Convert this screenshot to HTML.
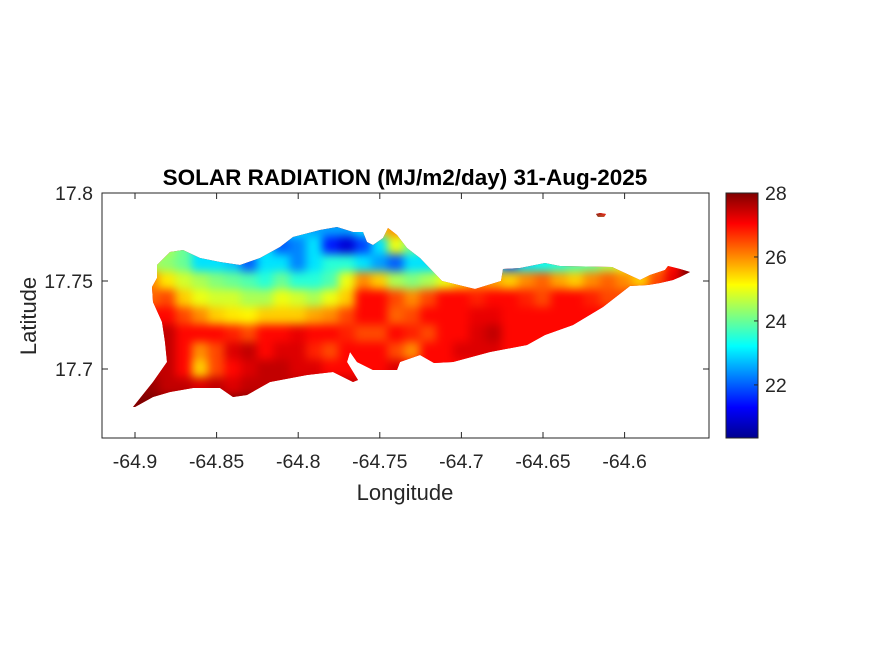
<!DOCTYPE html>
<html><head><meta charset="utf-8"><style>
body{margin:0;background:#fff;}
svg text{font-family:"Liberation Sans",Arial,sans-serif;fill:#262626;}
</style></head><body>
<svg width="875" height="656" viewBox="0 0 875 656" xmlns="http://www.w3.org/2000/svg">
<defs>
<clipPath id="island">
<polygon id="islandPoly" points="133,407 153,382 167,362 165,342 162,322 153,302 152,287 157,278 157,265 170,252 183,250 200,258 220,262 240,265 260,258 280,247 293,237 320,230 337,227 353,232 363,232 367,242 373,245 383,238 388,228 397,235 407,248 420,258 442,281 475,289 501,281 503,269 520,268 545,263 560,266 612,267 640,280 650,275 665,270 668,266 680,269 690,272 680,277 673,280 660,283 648,285 630,286 603,307 573,325 545,335 527,345 490,352 453,362 434,363 420,355 400,362 397,370 373,370 357,362 350,352 347,362 358,380 353,382 333,372 307,375 270,382 247,395 233,397 220,388 193,388 170,392 153,397 135,407"/>
<polygon points="596,214 600,213 606,214 604,217 598,217"/>
</clipPath>
<filter id="blur" x="-5%" y="-5%" width="110%" height="110%" color-interpolation-filters="sRGB"><feGaussianBlur stdDeviation="4.5"/></filter>
<linearGradient id="jet" x1="0" y1="1" x2="0" y2="0">
<stop offset="0" stop-color="#00008f"/><stop offset="0.125" stop-color="#0000ff"/><stop offset="0.375" stop-color="#00ffff"/><stop offset="0.625" stop-color="#ffff00"/><stop offset="0.875" stop-color="#ff0000"/><stop offset="1" stop-color="#800000"/>
</linearGradient>
</defs>
<text x="405" y="185" text-anchor="middle" font-size="22.5" font-weight="bold" style="fill:#000">SOLAR RADIATION (MJ/m2/day) 31-Aug-2025</text>
<g clip-path="url(#island)">
<rect x="100" y="190" width="620" height="250" fill="#e00000"/>
<g id="cells" filter="url(#blur)"></g>
</g>
<g id="axes">
<rect x="102" y="193" width="607" height="245" fill="none" stroke="#262626" stroke-width="1"/>
</g>
<text x="405" y="500" text-anchor="middle" font-size="22">Longitude</text>
<text transform="translate(36,316) rotate(-90)" text-anchor="middle" font-size="22">Latitude</text>
<rect x="726" y="193" width="32" height="245" fill="url(#jet)" stroke="#262626" stroke-width="1"/>
<g id="cbticks"></g>
</svg>
<script>
const lonTicks=[-64.9,-64.85,-64.8,-64.75,-64.7,-64.65,-64.6];
const latTicks=[17.8,17.75,17.7];
const cbTicks=[28,26,24,22];
const lonStart=-64.90, lonStep=0.01;
const latRows=[17.79,17.78,17.77,17.76,17.75,17.74,17.73,17.72,17.71,17.70,17.69,17.68,17.67];
const gridValues=[
[23,23,23,23,23,23,23,23,23,23,23,23,22.5,22.5,23,26,26,24,23,23,23,23,23,23,23,23,23,27,28,27,26,26,26,27,28],
[24,24,24,24,23.5,23.5,23,23,23,23,23,22.5,22.5,22.5,23,25.5,26,24,23,23,23,23,23,23,23,23,23,23,24,24,25,25,26,27,28],
[24.5,24.5,24.5,24,23,23,23,23,23,22,22.3,23,21.5,21,21.8,23,25,24,23,23,23,22.5,22,22,23,23,23.5,23.5,23.8,24,24.5,25,26,27,28],
[25,24.5,24.3,24,23,23,22.8,22,23,23,22.3,23,23.5,23.5,23,22.5,22,23,23,23.5,23.5,23.3,23,22,23,23.3,23.5,23.8,24,24.5,25,25.5,26,27,28],
[26.3,26,25.3,24.8,24.5,24.2,24,23.8,23.5,24,23.5,23.5,23.8,25,26,25.5,24.5,24.2,24.5,25,25.5,26,25.8,25.5,26,26.3,25.8,25.5,26,26.3,26,25.5,26.5,27.2,28],
[26.5,26.3,26.5,25.5,25,24.8,24.8,24.5,24.5,25,24.8,24.5,25,25.5,27,27,26.5,26,26.5,27,27,26.8,27,27,26.8,26.5,27,27,26.8,26.5,26.5,27,27,27,27],
[27,27,27,26.5,26,25.5,25.3,25.2,25.5,25.5,25.5,25.8,26,26.5,27,27,26.3,26.5,27,27,27,27.2,27.2,27,27,27,27,27,27,27,27,27,27,27,27],
[27.5,27.5,27.5,27,27,27,26.8,26.5,27,27,27.2,27,27,26.8,26.5,26.5,27,26.8,26.5,27,27,27.3,27.5,27,27,27,27,27,27,27,27,27,27,27,27],
[27.5,27.5,27.5,27,26,26.5,27.3,27.5,27,27.3,27.3,26.8,26.5,27,27,27,26.5,26,27,27,27.3,27.3,27.3,27,27,27,27,27,27,27,27,27,27,27,27],
[27.5,27.5,27.5,27,25.5,26.5,27,27.3,27.5,27.5,27.3,27.3,27,27,27,27,27.3,27,27,27,27,27,27,27,27,27,27,27,27,27,27,27,27,27,27],
[28,27.8,27.5,27.5,27.3,27.5,27.3,27.5,27.5,27.5,27.5,27.5,27.5,27.5,27.5,27.5,27.5,27.5,27.5,27.5,27.5,27.5,27.5,27.5,27.5,27.5,27.5,27.5,27.5,27.5,27.5,27.5,27.5,27.5,27.5],
[28,28,28,28,28,28,28,28,28,28,28,27.5,27.5,27.5,27.5,27.5,27.5,27.5,27.5,27.5,27.5,27.5,27.5,27.5,27.5,27.5,27.5,27.5,27.5,27.5,27.5,27.5,27.5,27.5,27.5],
[28,28,28,28,28,28,28,28,28,28,28,28,28,28,28,28,28,28,28,28,28,28,28,28,28,28,28,28,28,28,28,28,28,28,28]
];
const cMin=20.34, cMax=28;
const NS='http://www.w3.org/2000/svg';
function xScale(lon){return 135+(lon+64.9)*1632;}
function yScale(lat){return 193+(17.8-lat)*1760;}
function cbScale(v){return 438-(v-cMin)/(cMax-cMin)*245;}
function clamp(a){return Math.max(0,Math.min(1,a));}
function jet(v){const t=clamp((v-cMin)/(cMax-cMin));
const r=clamp(1.5-Math.abs(4*t-3)),g=clamp(1.5-Math.abs(4*t-2)),b=clamp(1.5-Math.abs(4*t-1));
return 'rgb('+Math.round(r*255)+','+Math.round(g*255)+','+Math.round(b*255)+')';}
const cells=document.getElementById('cells');
const cw=xScale(lonStart+lonStep)-xScale(lonStart);
const ch=yScale(17.70)-yScale(17.71);
gridValues.forEach((row,ri)=>{row.forEach((v,ci)=>{
const lon=lonStart+ci*lonStep, lat=latRows[ri];
const r=document.createElementNS(NS,'rect');
r.setAttribute('x',xScale(lon)-cw/2-0.5);r.setAttribute('y',yScale(lat)-ch/2-0.5);
r.setAttribute('width',cw+1);r.setAttribute('height',ch+1);r.setAttribute('fill',jet(v));


cells.appendChild(r);});});
const axes=document.getElementById('axes');
function add(parent,tag,attrs,text){const e=document.createElementNS(NS,tag);for(const k in attrs)e.setAttribute(k,attrs[k]);if(text!==undefined)e.textContent=text;parent.appendChild(e);return e;}
lonTicks.forEach(t=>{const x=xScale(t);
add(axes,'line',{x1:x,x2:x,y1:438,y2:432,stroke:'#262626'});
add(axes,'line',{x1:x,x2:x,y1:193,y2:199,stroke:'#262626'});
const l=add(axes,'text',{x:x,y:468,'text-anchor':'middle','font-size':'19.5'},String(t));

});
latTicks.forEach(t=>{const y=yScale(t);
add(axes,'line',{x1:102,x2:108,y1:y,y2:y,stroke:'#262626'});
add(axes,'line',{x1:709,x2:703,y1:y,y2:y,stroke:'#262626'});
const l=add(axes,'text',{x:93,y:y+7,'text-anchor':'end','font-size':'19.5'},String(t));

});
const cbt=document.getElementById('cbticks');
cbTicks.forEach(t=>{const y=cbScale(t);
add(cbt,'line',{x1:758,x2:754,y1:y,y2:y,stroke:'#262626'});
const l=add(cbt,'text',{x:765,y:y+7,'font-size':'19.5'},String(t));

});
</script>
</body></html>
